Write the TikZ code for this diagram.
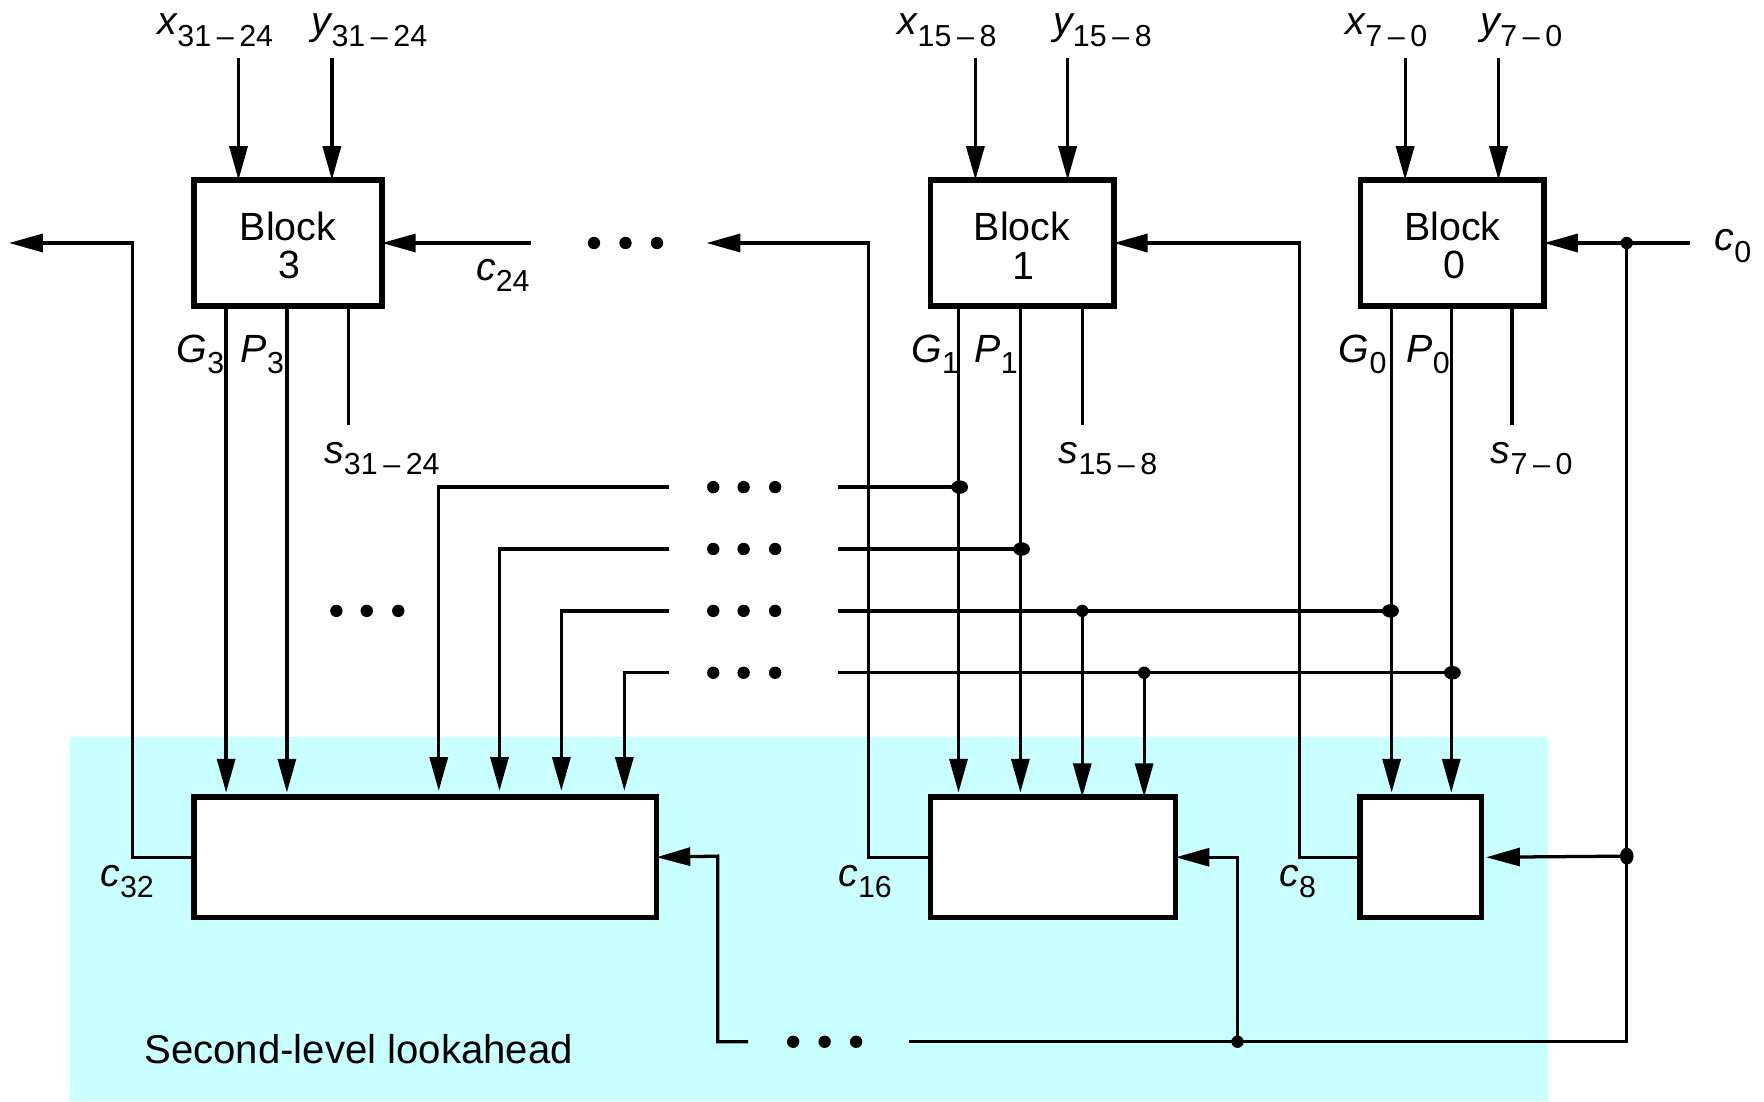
\documentclass[tikz,border=0pt]{standalone}
\usepackage{fontspec}
\setmainfont{Liberation Sans}
\usetikzlibrary{arrows.meta}
\newcommand{\sig}[2]{{\fontsize{35}{35}\selectfont\itshape #1}\raisebox{-10pt}{\fontsize{27}{30}\selectfont #2}}
\newcommand{\rng}[2]{#1\kern5pt–\kern5pt#2}
\newcommand{\blocktext}[1]{\rule{0pt}{30pt}Block\\\kern3pt#1}
\definecolor{lookcyan}{HTML}{C8FFFF}
\tikzset{
    wire/.style = {line width = 2.9pt},
    arrow/.style = {wire, -{Triangle[length = 30pt, width = 16pt]}},
    blockbox/.style = {draw, line width = 4.9pt, fill = white, inner sep = 0pt, outer sep = 0pt, align = center, font = \fontsize{35}{34}\selectfont},
    sigl/.style = {anchor = base west, inner sep = 0pt}
}
\begin{document}
\begin{tikzpicture}[x = 1pt, y = -1pt]
    \useasboundingbox (0, 0) rectangle (1568, 979);
    \fill[lookcyan] (62, 655) rectangle (1376, 979);
    \node[sigl, font = \fontsize{35.7}{36}\selectfont] (second) at (128, 945) {Second-level lookahead};

    % upper blocks
    \node[blockbox, minimum width = 167pt, minimum height = 112pt] (block3) at (256, 216) {\blocktext{3}};
    \node[blockbox, minimum width = 163pt, minimum height = 112pt] (block1) at (908.5, 216) {\blocktext{1}};
    \node[blockbox, minimum width = 163pt, minimum height = 112pt] (block0) at (1291, 216) {\blocktext{0}};
    % lookahead boxes
    \node[blockbox, minimum width = 411pt, minimum height = 107pt] (look3) at (378, 762) {};
    \node[blockbox, minimum width = 218pt, minimum height = 107pt] (look1) at (936, 762) {};
    \node[blockbox, minimum width = 108pt, minimum height = 107pt] (look0) at (1263, 762) {};

    % inputs from the top
    \foreach \name/\xa/\tgt in {x3/212/block3, y3/295/block3, x1/867/block1, y1/949/block1, x0/1249/block0, y0/1332/block0} {
        \coordinate (\name) at (\xa, 52);
        \draw[arrow] (\name) -- (\name |- \tgt.north);
    }
    \node[sigl] (lx3) at (140, 31) {\sig{x}{\rng{31}{24}}};
    \node[sigl] (ly3) at (277, 31) {\sig{y}{\rng{31}{24}}};
    \node[sigl] (lx1) at (798, 31) {\sig{x}{\rng{15}{8}}};
    \node[sigl] (ly1) at (936, 31) {\sig{y}{\rng{15}{8}}};
    \node[sigl] (lx0) at (1196, 31) {\sig{x}{\rng{7}{0}}};
    \node[sigl] (ly0) at (1316, 31) {\sig{y}{\rng{7}{0}}};

    % sum outputs
    \foreach \name/\xa/\tgt in {s3/310/block3, s1/962/block1, s0/1344/block0} {
        \coordinate (\name) at (\xa, 378);
        \draw[wire] (\name |- \tgt.south) -- (\name);
    }
    \node[sigl] (ls3) at (288, 412) {\sig{s}{\rng{31}{24}}};
    \node[sigl] (ls1) at (941, 412) {\sig{s}{\rng{15}{8}}};
    \node[sigl] (ls0) at (1325, 412) {\sig{s}{\rng{7}{0}}};

    % G and P lines
    \foreach \name/\xa/\up/\dn in {g3/201/block3/look3, p3/255/block3/look3, g1/852/block1/look1, p1/907/block1/look1, g0/1237/block0/look0, p0/1290/block0/look0} {
        \coordinate (\name) at (\xa, 500);
        \draw[wire] (\name |- \up.south) -- (\name);
        \draw[arrow] (\name) -- ([yshift = 4pt] \name |- \dn.north);
    }
    \node[sigl] (lg3) at (157, 322) {\sig{G}{3}};
    \node[sigl] (lp3) at (214, 322) {\sig{P}{3}};
    \node[sigl] (lg1) at (810, 322) {\sig{G}{1}};
    \node[sigl] (lp1) at (866, 322) {\sig{P}{1}};
    \node[sigl] (lg0) at (1190, 322) {\sig{G}{0}};
    \node[sigl] (lp0) at (1250, 322) {\sig{P}{0}};

    % buses
    \foreach \name/\ya/\xa/\xb in {a/433/390/853, b/488/444/908, c/543/499/1236, d/598/555/1291} {
        \coordinate (\name l) at (595, \ya);
        \coordinate (\name r) at (745, \ya);
        \coordinate (\name t) at (\xb, \ya);
        \coordinate (\name d) at (\xa, 703);
        \draw[arrow] (\name l) -| (\name d);
        \draw[wire] (\name r) -- (\name t);
    }
    \coordinate (cj) at (962, 543);
    \coordinate (dj) at (1017, 598);
    \draw[arrow] (cj) -- (cj |- look1.north);
    \draw[arrow] (dj) -- (dj |- look1.north);

    % carries
    \coordinate (c32) at (8, 216);
    \coordinate (c16) at (628, 216);
    \coordinate (c24) at (472, 216);
    \coordinate (c0) at (1502, 216);
    \coordinate (cn) at (1446, 216);
    \coordinate (cm) at (1446, 761);
    \coordinate (cb) at (1446, 926);
    \coordinate (cc) at (1100, 926);
    \coordinate (ce) at (808, 926);
    \coordinate (cf) at (665, 926);
    \coordinate (cg) at (638, 761);
    \draw[arrow] (look3.west) -| (118, 216) -- (c32);
    \draw[arrow] (look1.west) -| (772, 216) -- (c16);
    \draw[arrow] (look0.west) -| (1155, 216) -- (block1.east);
    \draw[arrow] (c24) -- (block3.east);
    \draw[arrow] (c0) -- (block0.east);
    \draw[wire, line join = miter] (cn) -- (cb) -- (ce);
    \draw[arrow] (cm) -- ([xshift = 4pt] look0.east);
    \draw[arrow] (cc) |- (look1.east);
    \draw[arrow] (cf) -| (cg) -- (look3.east);
    \node[sigl] (lc24) at (423, 249) {\sig{c}{24}};
    \node[sigl] (lc0) at (1524, 223) {\sig{c}{0}};
    \node[sigl] (lc32) at (89, 788) {\sig{c}{32}};
    \node[sigl] (lc16) at (745, 788) {\sig{c}{16}};
    \node[sigl] (lc8) at (1137, 788) {\sig{c}{8}};

    % ellipsis dots
    \foreach \xa/\ya in {528/216, 556/216, 584/216, 299/543, 326/543, 354/543, 705/926, 733/926, 761/926}
        \fill (\xa, \ya) circle (5.5);
    \foreach \ya in {433, 488, 543, 598}
        \foreach \xa in {634, 661, 689}
            \fill (\xa, \ya) circle (5.5);
    % junctions
    \foreach \xa/\ya in {853/433, 908/488, 1236/543, 1291/598}
        \fill (\xa, \ya) ellipse (7.5 and 6);
    \foreach \xa/\ya in {962/543, 1017/598, 1446/216, 1100/926}
        \fill (\xa, \ya) circle (5.5);
    \fill (cm) ellipse (6 and 7.5);
\end{tikzpicture}
\end{document}
